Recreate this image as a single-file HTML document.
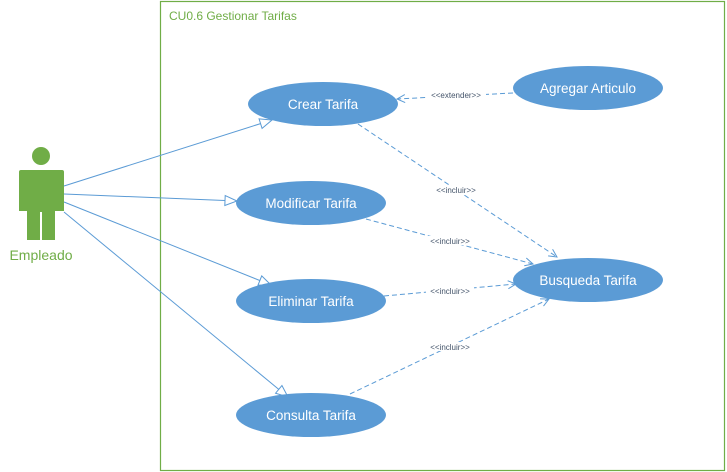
<!DOCTYPE html>
<html><head><style>body{margin:0;background:#fff}svg{display:block}</style></head><body>
<svg width="727" height="472" xmlns="http://www.w3.org/2000/svg" font-family="Liberation Sans, sans-serif">
<defs>
<marker id="tri" markerWidth="14" markerHeight="12" refX="13" refY="6" orient="auto" markerUnits="userSpaceOnUse"><path d="M1,1 L13,6 L1,11 Z" fill="#fff" stroke="#5b9bd5" stroke-width="1"/></marker>
<marker id="open" markerWidth="10" markerHeight="10" refX="9" refY="5" orient="auto" markerUnits="userSpaceOnUse"><path d="M1,1 L9,5 L1,9" fill="none" stroke="#5b9bd5" stroke-width="1"/></marker>
</defs>
<rect x="160.5" y="1.5" width="564" height="469" fill="none" stroke="#70ad47" stroke-width="1.2"/>
<text x="169" y="20" font-size="12" fill="#70ad47">CU0.6 Gestionar Tarifas</text>
<circle cx="41" cy="156" r="9" fill="#70ad47"/>
<path d="M21,170 H62 Q64,170 64,172 V211 H55 V240 H42 V212 H40 V240 H27 V211 H19 V172 Q19,170 21,170 Z" fill="#70ad47"/>
<text x="41" y="260" font-size="14" fill="#70ad47" text-anchor="middle">Empleado</text>
<g stroke="#5b9bd5" stroke-width="1" fill="none">
<line x1="64" y1="186" x2="272" y2="120" marker-end="url(#tri)"/>
<line x1="64" y1="194" x2="237" y2="201" marker-end="url(#tri)"/>
<line x1="64" y1="202" x2="271" y2="285" marker-end="url(#tri)"/>
<line x1="64" y1="212" x2="288" y2="397" marker-end="url(#tri)"/>
<g stroke-dasharray="5,3">
<line x1="513" y1="93" x2="397" y2="99" marker-end="url(#open)"/>
<line x1="358" y1="124" x2="557" y2="257" marker-end="url(#open)"/>
<line x1="366" y1="219" x2="533" y2="264" marker-end="url(#open)"/>
<line x1="384" y1="296" x2="516" y2="284" marker-end="url(#open)"/>
<line x1="350" y1="394" x2="549" y2="299" marker-end="url(#open)"/>
</g>
</g>
<g font-size="8" fill="#44546a" text-anchor="middle">
<rect x="426" y="91" width="60" height="9" fill="#fff"/>
<text x="456" y="98">&lt;&lt;extender&gt;&gt;</text>
<rect x="432" y="186" width="48" height="9" fill="#fff"/>
<text x="456" y="193">&lt;&lt;incluir&gt;&gt;</text>
<rect x="426" y="236" width="48" height="9" fill="#fff"/>
<text x="450" y="244">&lt;&lt;incluir&gt;&gt;</text>
<rect x="426" y="286" width="48" height="9" fill="#fff"/>
<text x="450" y="294">&lt;&lt;incluir&gt;&gt;</text>
<rect x="426" y="342" width="48" height="9" fill="#fff"/>
<text x="450" y="350">&lt;&lt;incluir&gt;&gt;</text>
</g>
<g fill="#5b9bd5">
<ellipse cx="323" cy="104" rx="75" ry="22"/>
<ellipse cx="311" cy="203" rx="75" ry="22"/>
<ellipse cx="311" cy="301" rx="75" ry="22"/>
<ellipse cx="311" cy="415" rx="75" ry="22"/>
<ellipse cx="588" cy="88" rx="75" ry="22"/>
<ellipse cx="588" cy="280" rx="75" ry="22"/>
</g>
<g font-size="13.5" fill="#fff" text-anchor="middle">
<text x="323" y="109">Crear Tarifa</text>
<text x="311" y="208">Modificar Tarifa</text>
<text x="311" y="306">Eliminar Tarifa</text>
<text x="311" y="420">Consulta Tarifa</text>
<text x="588" y="93">Agregar Articulo</text>
<text x="588" y="285">Busqueda Tarifa</text>
</g>
</svg>
</body></html>
